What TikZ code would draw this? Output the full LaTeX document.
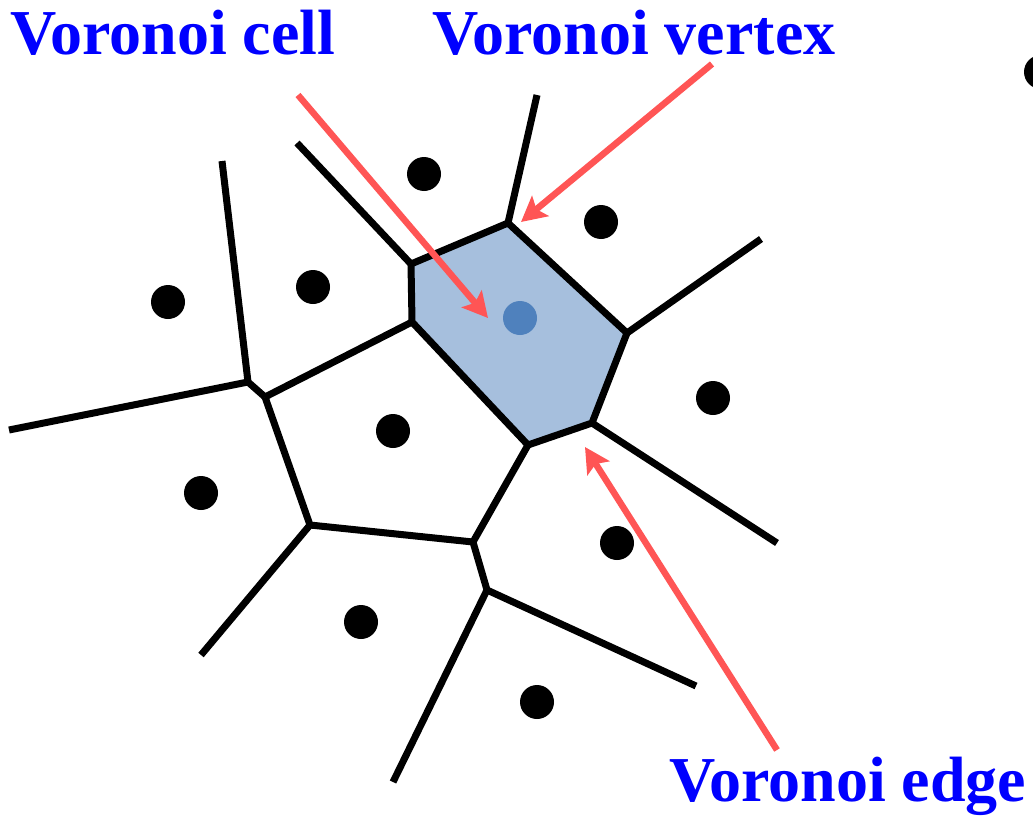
\documentclass[tikz,border=0pt]{standalone}
\usepackage{fontspec}
\setmainfont{Liberation Serif}
\usetikzlibrary{arrows.meta}
\definecolor{cellfill}{RGB}{166,191,221}
\definecolor{siteblue}{RGB}{79,129,189}
\definecolor{arrowred}{RGB}{255,85,85}
\definecolor{labelblue}{RGB}{0,0,255}
\tikzset{
  edge/.style={draw=black, line width=7pt, line join=round, line cap=butt},
  site/.style={circle, fill=black, minimum size=34pt, inner sep=0pt, outer sep=0pt},
  pointer/.style={draw=arrowred, line width=6.5pt, -{Stealth[length=25pt, width=26pt, inset=5pt]}},
  lab/.style={inner sep=0pt, outer sep=0pt, anchor=base west, text=labelblue, font=\fontsize{64pt}{70pt}\selectfont\bfseries}
}
\begin{document}
\begin{tikzpicture}[x=1pt, y=-1pt]
\useasboundingbox (0,0) rectangle (1033,816);
\clip (0,0) rectangle (1033,816);
% Voronoi vertices
\coordinate (v1) at (411,264);
\coordinate (v2) at (508,223);
\coordinate (v3) at (627,333);
\coordinate (v4) at (592,423);
\coordinate (v5) at (528,445);
\coordinate (v6) at (412,322);
\coordinate (v7) at (473,542);
\coordinate (v8) at (265,397);
\coordinate (v9) at (248,382);
\coordinate (v10) at (310,525);
\coordinate (v11) at (487,590);
% free ends
\coordinate (e1) at (297,143);
\coordinate (e2) at (537,95);
\coordinate (e3) at (761,239);
\coordinate (e4) at (777,543);
\coordinate (e5) at (222,161);
\coordinate (e6) at (9,430);
\coordinate (e7) at (201,655);
\coordinate (e8) at (696,686);
\coordinate (e9) at (393,782);
% cell fill
\fill[cellfill] (v1) -- (v2) -- (v3) -- (v4) -- (v5) -- (v6) -- cycle;
% edges
\draw[edge] (v1) -- (v2) -- (v3) -- (v4) -- (v5) -- (v6) -- cycle;
\draw[edge] (v1) -- (e1);
\draw[edge] (v2) -- (e2);
\draw[edge] (v3) -- (e3);
\draw[edge] (v4) -- (e4);
\draw[edge] (v5) -- (v7);
\draw[edge] (v6) -- (v8);
\draw[edge] (e5) -- (v9) -- (v8);
\draw[edge] (v9) -- (e6);
\draw[edge] (v8) -- (v10) -- (v7) -- (v11) -- (e8);
\draw[edge] (v10) -- (e7);
\draw[edge] (v11) -- (e9);
% sites
\node[site] (s1) at (424,174) {};
\node[site] (s2) at (601,222) {};
\node[site] (s3) at (313,287) {};
\node[site] (s4) at (168,302) {};
\node[site] (s5) at (713,398) {};
\node[site] (s6) at (393,431) {};
\node[site] (s7) at (201,493) {};
\node[site] (s8) at (617,543) {};
\node[site] (s9) at (361,622) {};
\node[site] (s10) at (537,702) {};
\node[site] (s11) at (1041,72) {};
\node[site, fill=siteblue] (sc) at (520,318) {};
% labels
\node[lab] (lcell) at (10,55) {Voronoi cell};
\node[lab] (lvert) at (432,55) {Voronoi vertex};
\node[lab] (ledge) at (669,801) {Voronoi edge};
% pointers
\coordinate (a1s) at (298,95);
\coordinate (a1e) at (488,318);
\coordinate (a2s) at (712,64);
\coordinate (a2e) at (521,222);
\coordinate (a3s) at (777,750);
\coordinate (a3e) at (585,447);
\draw[pointer] (a1s) -- (a1e);
\draw[pointer] (a2s) -- (a2e);
\draw[pointer] (a3s) -- (a3e);
\end{tikzpicture}
\end{document}
